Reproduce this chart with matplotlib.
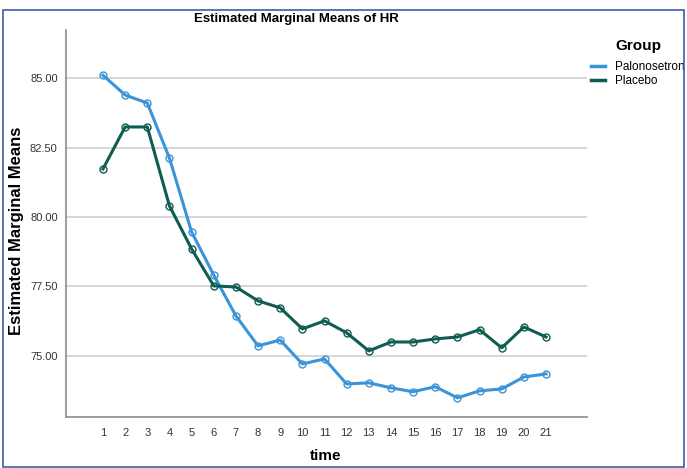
import matplotlib.pyplot as plt
from matplotlib.patches import Rectangle

plt.rcParams['font.family'] = ['Liberation Sans', 'DejaVu Sans']

time = list(range(1, 22))
palonosetron = [85.10, 84.39, 84.10, 82.12, 79.46, 77.91, 76.44, 75.36, 75.57, 74.71, 74.89,
                73.99, 74.03, 73.85, 73.71, 73.89, 73.49, 73.74, 73.81, 74.24, 74.35]
placebo = [81.73, 83.24, 83.24, 80.40, 78.85, 77.52, 77.48, 76.98, 76.73, 75.97, 76.26,
           75.83, 75.18, 75.50, 75.50, 75.61, 75.68, 75.94, 75.29, 76.04, 75.68]
yticks = [75.0, 77.5, 80.0, 82.5, 85.0]

fig = plt.figure(figsize=(6.87, 4.68), dpi=100)
ax = fig.add_axes([66 / 687, 1 - 417 / 468, (587 - 66) / 687, (417 - 30) / 468])

for y in yticks:
    ax.axhline(y, color='#d3d3d3', lw=1.3, zorder=0)

ax.plot(time, palonosetron, color='#3a94d8', lw=2.2, marker='o', ms=5,
        mfc='none', mec='#3a94d8', mew=1, label='Palonosetron')
ax.plot(time, placebo, color='#0f5c50', lw=2.2, marker='o', ms=5,
        mfc='none', mec='#0f5c50', mew=1, label='Placebo')

ax.set_xlim(-0.67, 22.85)
ax.set_ylim(72.8, 86.73)
ax.set_xticks(time)
ax.set_yticks(yticks)
ax.set_yticklabels(['%.2f' % v for v in yticks])
ax.tick_params(length=0, labelsize=8, colors='#333333', pad=6)
ax.tick_params(axis='x', pad=8)
for s in ['top', 'right']:
    ax.spines[s].set_visible(False)
for s in ['left', 'bottom']:
    ax.spines[s].set_color('#8c8c8c')
    ax.spines[s].set_linewidth(1.2)

ax.set_xlabel('time', fontsize=11, fontweight='bold')
ax.xaxis.set_label_coords((326 - 66) / 521, -(449 - 417) / 387)
ax.set_ylabel('Estimated Marginal Means', fontsize=12, fontweight='bold')
ax.yaxis.set_label_coords(-(66 - 24) / 521, (417 - 231) / 387)
fig.text(296 / 687, 1 - 19 / 468, 'Estimated Marginal Means of HR', fontsize=9.5,
         fontweight='bold', ha='center', va='center')

handles, labels = ax.get_legend_handles_labels()
lines = [plt.Line2D([], [], color=h.get_color(), lw=2.5) for h in handles]
leg = ax.legend(lines, labels, loc='upper left', bbox_to_anchor=(0.998, 0.99), frameon=False,
                title='Group', fontsize=8.5, handlelength=1.2, handletextpad=0.9,
                labelspacing=0.15, borderaxespad=0)
leg.get_title().set_fontweight('bold')
leg.get_title().set_fontsize(11)
leg._legend_box.sep = 6

fig.patches.append(Rectangle((3 / 687, 1 / 468), 681 / 687, 457 / 468, transform=fig.transFigure,
                             fill=False, edgecolor='#3b5ea8', lw=1.2))

fig.savefig('out.png', dpi=100)
